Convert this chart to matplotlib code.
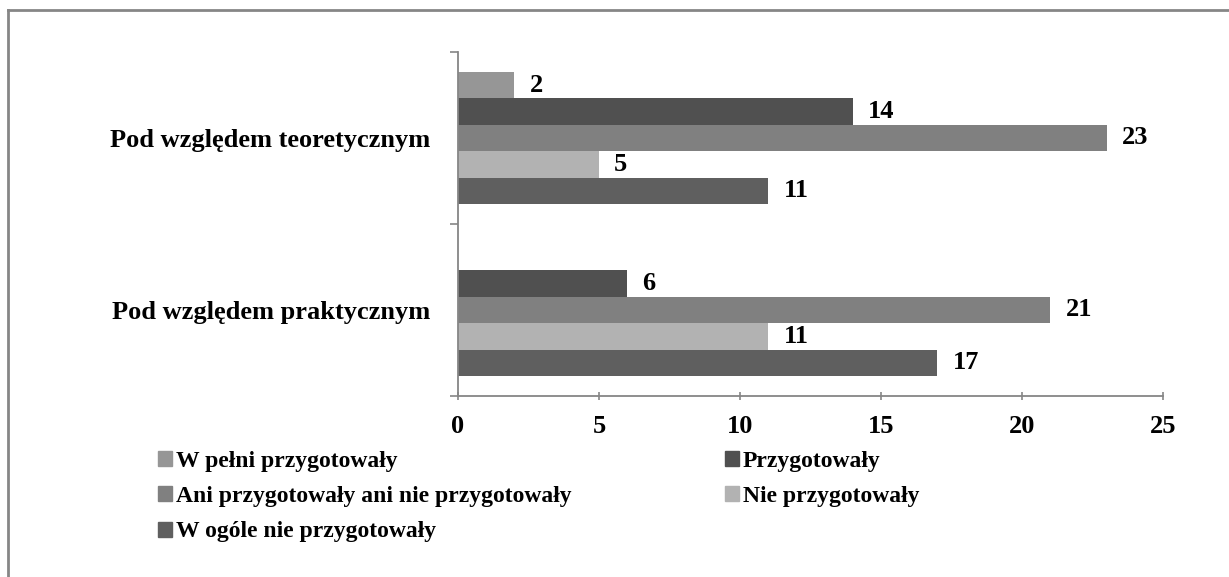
import numpy as np
import matplotlib.pyplot as plt
from matplotlib.patches import Patch
from matplotlib.lines import Line2D

plt.rcParams['font.family'] = ['Liberation Serif', 'DejaVu Serif']
plt.rcParams['font.weight'] = 'bold'

categories = ['Pod względem praktycznym', 'Pod względem teoretycznym']
series = ['W pełni przygotowały', 'Przygotowały',
          'Ani przygotowały ani nie przygotowały', 'Nie przygotowały',
          'W ogóle nie przygotowały']
# values per series: [praktycznym, teoretycznym]
w_pelni = [np.nan, 2]
przygotowaly = [6, 14]
ani_ani = [21, 23]
nie_przyg = [11, 5]
w_ogole = [17, 11]
values = [w_pelni, przygotowaly, ani_ani, nie_przyg, w_ogole]
colors = ['#969696', '#505050', '#808080', '#b2b2b2', '#5f5f5f']

fig = plt.figure(figsize=(12.29, 5.77), dpi=100)
ax = fig.add_axes([458 / 1229, 1 - 396 / 577, 705 / 1229, 344 / 577])

y = np.arange(len(categories))
h = 0.154
for i, (vals, col) in enumerate(zip(values, colors)):
    off = (2 - i) * h
    vals = np.array(vals, dtype=float)
    bars = ax.barh(y + off, np.nan_to_num(vals), height=h, color=col)
    for b, v in zip(bars, vals):
        if np.isnan(v):
            continue
        ax.annotate(f'{int(v)}', (b.get_width(), b.get_y() + h / 2),
                    xytext=(11, 0), textcoords='offset points',
                    ha='left', va='center', fontsize=19, fontweight='bold')

ax.set_xlim(0, 25)
ax.set_ylim(-0.5, 1.5)
ax.set_xticks(range(0, 26, 5))
ax.set_yticks(y)
ax.set_yticklabels(categories)
ax.set_yticks([-0.5, 0.5, 1.5], minor=True)
ax.tick_params(axis='y', which='major', length=0, pad=20, labelsize=19)
ax.tick_params(axis='y', which='minor', length=6, width=1.2, color='#868686', direction='out')
ax.tick_params(axis='x', length=6, width=1.2, color='#868686', direction='inout',
               labelsize=19, pad=11)
for s in ['top', 'right']:
    ax.spines[s].set_visible(False)
for s in ['left', 'bottom']:
    ax.spines[s].set_color('#868686')
    ax.spines[s].set_linewidth(1.3)

# outer frame (only top and left edges visible)
fig.add_artist(Line2D([7.5 / 1229, 1], [1 - 9.5 / 577, 1 - 9.5 / 577],
                      transform=fig.transFigure, color='#868686', lw=2))
fig.add_artist(Line2D([7.5 / 1229, 7.5 / 1229], [0, 1 - 9.5 / 577],
                      transform=fig.transFigure, color='#868686', lw=2))

handles = [Patch(color=c, label=s) for c, s in zip(colors, series)]
order = [0, 2, 4, 1, 3]
ax.legend([handles[k] for k in order], [series[k] for k in order], ncol=2,
          loc='upper left', bbox_to_anchor=(158 / 1229, 1 - 451 / 577),
          bbox_transform=fig.transFigure, frameon=False, fontsize=17,
          handlelength=0.6, handleheight=0.6, handletextpad=0.15,
          labelspacing=0.6, columnspacing=6.5, borderpad=0, borderaxespad=0)

fig.savefig('out.png', dpi=100)
